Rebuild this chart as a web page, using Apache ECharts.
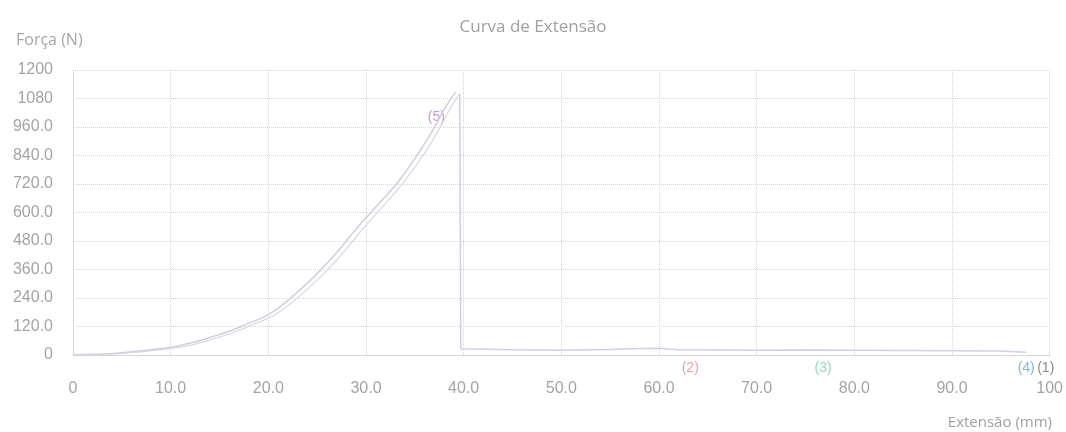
<!DOCTYPE html>
<html>
<head>
<meta charset="utf-8">
<script src="https://cdn.jsdelivr.net/npm/echarts@6/dist/echarts.min.js"></script>
<style>
html,body{margin:0;padding:0;background:#fff;}
#chart{width:1066px;height:432px;}
</style>
</head>
<body>
<div id="chart"></div>
<script>
// Tick labels as printed on the reference
var yTickLabels = ['0','120.0','240.0','360.0','480.0','600.0','720.0','840.0','960.0','1080','1200'];
var xTickLabels = ['0','10.0','20.0','30.0','40.0','50.0','60.0','70.0','80.0','90.0','100'];

// Curve (5): extension (mm), force (N)
var curve5 = [
  [0,2],[2,3],[4,6],[5.5,12],[8,22],[10.2,34],[12,50],[14,74],[16,100],[18,134],
  [20,170],[22,230],[24.2,310],[26.5,408],[29.3,545],[31.5,645],[33.4,735],
  [35.5,858],[37,958],[38.2,1048],[39.2,1108]
];
// second near-identical trace (doubled line)
var curve5b = [
  [0,1],[2,2],[4,4],[6,10],[8,18],[10.5,30],[12.5,46],[14.5,70],[16.5,96],[18.5,130],
  [20.5,165],[22.5,224],[24.7,304],[27,400],[29.8,537],[32,638],[33.9,730],
  [36,850],[37.5,952],[38.7,1043],[39.6,1100]
];
// drop and residual trace after break
var residual = [
  [39.6,1100],[39.7,26],[45,22],[50,20],[55,23],[58,27],[60,28],[62,22],[66,21],
  [70,20],[75,21],[80,20],[85,19],[90,18],[95,17],[97.6,12]
];
// specimen labels
var specLabels = ['(5)','(2)','(3)','(4)','(1)'];
var specX = [37.2,63.2,76.8,97.6,99.6];
var specY = [1000,-55,-55,-55,-55];
var specColors = ['#c77bc4','#e58a8a','#6fcfb2','#62a6e0','#6a6a6a'];

var chart = echarts.init(document.getElementById('chart'));
var labelData = specLabels.map(function(t,i){
  return {value:[specX[i],specY[i]], label:{show:true, formatter:t, color:specColors[i]}};
});
var gridLine = {show:true, lineStyle:{color:'#d6d6d6', type:'dotted', width:1}};
chart.setOption({
  backgroundColor:'#ffffff',
  animation:false,
  title:[
    {text:'Curva de Extensão', left:'center', top:14,
     textStyle:{color:'#a0a0a0', fontWeight:'normal', fontSize:17, fontFamily:'Open Sans'}},
    {text:'Força (N)', left:11, top:27,
     textStyle:{color:'#a6a6a6', fontWeight:'normal', fontSize:16, fontFamily:'Open Sans'}},
    {text:'Extensão (mm)', right:9, top:410,
     textStyle:{color:'#a0a0a0', fontWeight:'normal', fontSize:15, fontFamily:'Open Sans'}}
  ],
  grid:{left:73, right:13, top:70, bottom:77},
  xAxis:{
    type:'value', min:0, max:100, interval:10,
    axisLine:{show:true, lineStyle:{color:'#cfcfcf', type:'dotted'}},
    axisTick:{show:false},
    axisLabel:{color:'#a4a4a4', fontSize:16, fontFamily:'Liberation Sans', margin:26,
      formatter:function(v){ return xTickLabels[Math.round(v/10)]; }},
    splitLine:gridLine
  },
  yAxis:{
    type:'value', min:0, max:1200, interval:120,
    axisLine:{show:true, lineStyle:{color:'#cfcfcf', type:'dotted'}},
    axisTick:{show:false},
    axisLabel:{color:'#a4a4a4', fontSize:16, fontFamily:'Liberation Sans', margin:20,
      formatter:function(v){ return yTickLabels[Math.round(v/120)]; }},
    splitLine:gridLine
  },
  series:[
    {type:'line', data:curve5, showSymbol:false, smooth:true,
     lineStyle:{color:'#cfcfdc', width:1.5}},
    {type:'line', data:curve5b, showSymbol:false, smooth:true,
     lineStyle:{color:'#d8d8e2', width:1.2}},
    {type:'line', data:residual, showSymbol:false,
     lineStyle:{color:'#cdd0e6', width:1.5}},
    {type:'scatter', data:labelData, symbolSize:0, clip:false,
     label:{show:true, position:'inside', fontSize:14, fontFamily:'Liberation Sans'}}
  ]
});
</script>
</body>
</html>
